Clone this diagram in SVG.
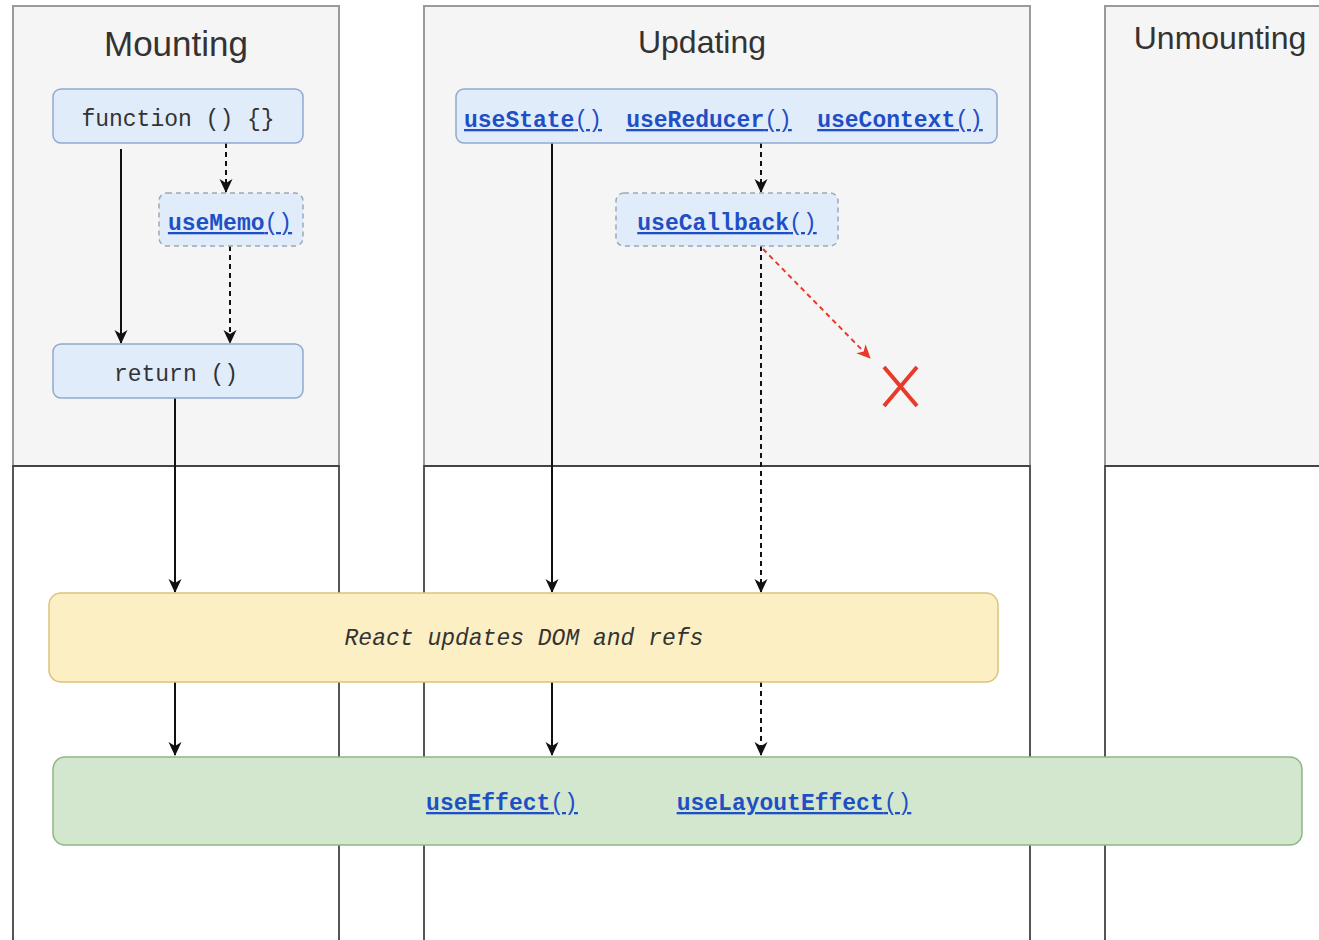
<svg xmlns="http://www.w3.org/2000/svg" width="1319" height="940" viewBox="0 0 1319 940">
<style>
.title{font-family:"Liberation Sans",Arial,sans-serif;font-size:32px;fill:#333;text-anchor:middle}
.mono{font-family:"Liberation Mono","DejaVu Sans Mono",monospace;font-size:23px;fill:#333;text-anchor:middle}
.link{font-family:"Liberation Mono","DejaVu Sans Mono",monospace;font-size:23px;fill:#1f4fc4;text-anchor:middle;text-decoration:underline}
.b{font-weight:bold}
.top{fill:#f5f5f5;stroke:#9a9a9a;stroke-width:2}
.bot{fill:#fff;stroke:#555;stroke-width:2}
.div{stroke:#444;stroke-width:2}
.blue{fill:#e1ecfb;stroke:#8fa9cf;stroke-width:1.5}
.blued{fill:#e1ecfb;stroke:#9aa8b8;stroke-width:1.5;stroke-dasharray:5 4}
.c{fill:none;stroke:#111;stroke-width:2}
.d{fill:none;stroke:#111;stroke-width:2;stroke-dasharray:5 4}
</style>
<defs>
<marker id="ah" markerWidth="14" markerHeight="14" refX="13" refY="7" orient="auto" markerUnits="userSpaceOnUse" viewBox="0 0 14 14">
<path d="M0,0.5 L14,7 L0,13.5 L4,7 z" fill="#111"/>
</marker>
<marker id="ahr" markerWidth="14" markerHeight="14" refX="13" refY="7" orient="auto" markerUnits="userSpaceOnUse" viewBox="0 0 14 14">
<path d="M0,0.5 L14,7 L0,13.5 L4,7 z" fill="#e8392a"/>
</marker>
</defs>
<rect width="1319" height="940" fill="#fff"/>
<g id="col-mounting">
<rect class="top" x="13" y="6" width="326" height="460"/>
<rect class="bot" x="13" y="466" width="326" height="480"/>
<line class="div" x1="13" y1="466" x2="339" y2="466"/>
<text class="title" x="176" y="56" style="font-size:35px">Mounting</text>
</g>
<g id="col-updating">
<rect class="top" x="424" y="6" width="606" height="460"/>
<rect class="bot" x="424" y="466" width="606" height="480"/>
<line class="div" x1="424" y1="466" x2="1030" y2="466"/>
<text class="title" x="702" y="53">Updating</text>
</g>
<g id="col-unmounting">
<rect class="top" x="1105" y="6" width="230" height="460"/>
<rect class="bot" x="1105" y="466" width="230" height="480"/>
<line class="div" x1="1105" y1="466" x2="1319" y2="466"/>
<text class="title" x="1220" y="49">Unmounting</text>
</g>
<g id="connectors">
<line class="c" x1="121" y1="149" x2="121" y2="343" marker-end="url(#ah)"/>
<line class="d" x1="226" y1="143" x2="226" y2="192" marker-end="url(#ah)"/>
<line class="d" x1="230" y1="246" x2="230" y2="343" marker-end="url(#ah)"/>
<line class="c" x1="175" y1="398" x2="175" y2="592" marker-end="url(#ah)"/>
<line class="c" x1="552" y1="143" x2="552" y2="592" marker-end="url(#ah)"/>
<line class="d" x1="761" y1="143" x2="761" y2="192" marker-end="url(#ah)"/>
<line class="d" x1="761" y1="246" x2="761" y2="592" marker-end="url(#ah)"/>
<line x1="763" y1="249" x2="870" y2="358" stroke="#e8392a" stroke-width="2" stroke-dasharray="5 4" marker-end="url(#ahr)"/>
<line class="c" x1="175" y1="682" x2="175" y2="755" marker-end="url(#ah)"/>
<line class="c" x1="552" y1="682" x2="552" y2="755" marker-end="url(#ah)"/>
<line class="d" x1="761" y1="682" x2="761" y2="755" marker-end="url(#ah)"/>
</g>
<g id="node-function">
<rect class="blue" x="53" y="89" width="250" height="54" rx="8"/>
<text class="mono" x="178" y="126">function () {}</text>
</g>
<g id="node-usememo">
<rect class="blued" x="159" y="193" width="144" height="53" rx="8"/>
<text class="link" x="230" y="230"><tspan class="b">useMemo</tspan>()</text>
</g>
<g id="node-return">
<rect class="blue" x="53" y="344" width="250" height="54" rx="8"/>
<text class="mono" x="176" y="381">return ()</text>
</g>
<g id="node-hooks">
<rect class="blue" x="456" y="89" width="541" height="54" rx="8"/>
<text class="link" x="533" y="127"><tspan class="b">useState</tspan>()</text>
<text class="link" x="709" y="127"><tspan class="b">useReducer</tspan>()</text>
<text class="link" x="900" y="127"><tspan class="b">useContext</tspan>()</text>
</g>
<g id="node-usecallback">
<rect class="blued" x="616" y="193" width="222" height="53" rx="8"/>
<text class="link" x="727" y="230"><tspan class="b">useCallback</tspan>()</text>
</g>
<g id="node-x">
<line x1="884" y1="367" x2="917" y2="406" stroke="#e8392a" stroke-width="4"/>
<line x1="917" y1="367" x2="884" y2="406" stroke="#e8392a" stroke-width="4"/>
</g>
<g id="node-react">
<rect x="49" y="593" width="949" height="89" rx="12" fill="#fdefc4" stroke="#dcc27c" stroke-width="1.5"/>
<text class="mono" x="524" y="645" font-style="italic">React updates DOM and refs</text>
</g>
<g id="node-effects">
<rect x="53" y="757" width="1249" height="88" rx="12" fill="#d3e7cf" stroke="#8fb685" stroke-width="1.5"/>
<text class="link" x="502" y="810"><tspan class="b">useEffect</tspan>()</text>
<text class="link" x="794" y="810"><tspan class="b">useLayoutEffect</tspan>()</text>
</g>
</svg>
